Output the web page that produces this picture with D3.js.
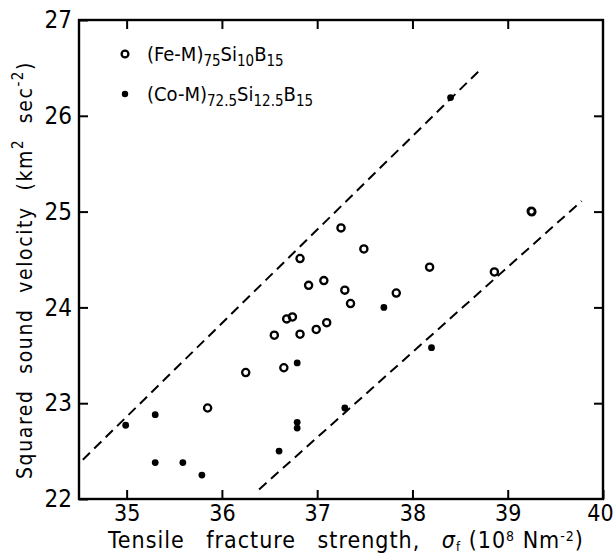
<!DOCTYPE html>
<html>
<head>
<meta charset="utf-8">
<script src="https://cdn.jsdelivr.net/npm/d3@7"></script>
<style>
  body { margin: 0; background: #fff; }
  svg { display: block; }
  text { font-family: "DejaVu Sans Condensed", "DejaVu Sans", sans-serif; fill: #000; }
</style>
</head>
<body>
<div id="container"></div>
<script>
// ---------------- data ----------------
var xTicks = [35, 36, 37, 38, 39, 40];
var yTicks = [22, 23, 24, 25, 26, 27];

// (Fe-M)75Si10B15, open circles
var feX = [35.85, 36.25, 36.55, 36.65, 36.68, 36.74, 36.82, 36.82, 36.91, 36.99,
           37.07, 37.10, 37.25, 37.29, 37.35, 37.49, 37.83, 38.18, 38.86, 39.247, 39.253];
var feY = [22.95, 23.32, 23.71, 23.37, 23.88, 23.90, 23.72, 24.51, 24.23, 23.77,
           24.28, 23.84, 24.83, 24.18, 24.04, 24.61, 24.15, 24.42, 24.37, 25.004, 24.998];

// (Co-M)72.5Si12.5B15, filled dots
var coX = [34.99, 35.30, 35.30, 35.59, 35.79, 36.60, 36.79, 36.79, 36.79, 37.29, 37.70, 38.20, 38.40];
var coY = [22.77, 22.88, 22.38, 22.38, 22.25, 22.50, 22.80, 22.74, 23.42, 22.95, 24.00, 23.58, 26.19];

// dashed bounding lines [x0, y0, x1, y1]
var upperLine = [34.54, 22.41, 38.71, 26.48];
var lowerLine = [36.39, 22.10, 39.775, 25.11];

// ---------------- set up ----------------
var width = 614, height = 555;
var svg = d3.select("#container").append("svg")
    .attr("width", width)
    .attr("height", height);

var x = d3.scaleLinear().domain([34.5, 40]).range([79, 603]);
var y = d3.scaleLinear().domain([22, 27]).range([499, 20]);

var tickLen = 9;

// ---------------- frame + ticks ----------------
svg.append("rect")
    .attr("x", x(34.5)).attr("y", y(27))
    .attr("width", x(40) - x(34.5)).attr("height", y(22) - y(27))
    .style("fill", "none").style("stroke", "#000").style("stroke-width", 2.4);

var bottomAxis = d3.axisBottom(x).tickValues(xTicks).tickSize(-tickLen).tickPadding(6)
    .tickFormat(d3.format("d"));
var gx = svg.append("g").attr("transform", "translate(0," + y(22) + ")").call(bottomAxis);
gx.select(".domain").remove();
gx.selectAll("line").style("stroke-width", 2);
gx.selectAll("text").style("font-size", "23px").attr("dy", "0.71em")
    .attr("dx", function (d) { return d === 40 ? -3 : 0; });

var topAxis = d3.axisTop(x).tickValues(xTicks.slice(0, 5)).tickSize(-tickLen).tickFormat("");
var gt = svg.append("g").attr("transform", "translate(0," + y(27) + ")").call(topAxis);
gt.select(".domain").remove();
gt.selectAll("line").style("stroke-width", 2);

var leftAxis = d3.axisLeft(y).tickValues(yTicks).tickSize(-tickLen).tickPadding(7)
    .tickFormat(d3.format("d"));
var gy = svg.append("g").attr("transform", "translate(" + x(34.5) + ",0)").call(leftAxis);
gy.select(".domain").remove();
gy.selectAll("line").style("stroke-width", 2);
gy.selectAll("text").style("font-size", "24px");

var rightAxis = d3.axisRight(y).tickValues(yTicks.slice(1, 5)).tickSize(-tickLen).tickFormat("");
var gr = svg.append("g").attr("transform", "translate(" + x(40) + ",0)").call(rightAxis);
gr.select(".domain").remove();
gr.selectAll("line").style("stroke-width", 2);

// ---------------- dashed lines ----------------
[upperLine, lowerLine].forEach(function (l) {
    svg.append("line")
        .attr("x1", x(l[0])).attr("y1", y(l[1]))
        .attr("x2", x(l[2])).attr("y2", y(l[3]))
        .style("stroke", "#000")
        .style("stroke-width", 2)
        .style("stroke-dasharray", "10,6");
});

// ---------------- points ----------------
svg.append("g").selectAll("circle")
    .data(feX)
    .enter().append("circle")
    .attr("cx", function (d) { return x(d); })
    .attr("cy", function (d, i) { return y(feY[i]); })
    .attr("r", 3.6)
    .style("fill", "none")
    .style("stroke", "#000")
    .style("stroke-width", 2.3);

svg.append("g").selectAll("circle")
    .data(coX)
    .enter().append("circle")
    .attr("cx", function (d) { return x(d); })
    .attr("cy", function (d, i) { return y(coY[i]); })
    .attr("r", 3.4)
    .style("fill", "#000");

// ---------------- legend ----------------
svg.append("circle").attr("cx", 125).attr("cy", 54).attr("r", 3.4)
    .style("fill", "none").style("stroke", "#000").style("stroke-width", 2.3);
svg.append("circle").attr("cx", 125).attr("cy", 94).attr("r", 3.2).style("fill", "#000");

function formula(ypos, parts) {
    var t = svg.append("text").attr("x", 147).attr("y", ypos).style("font-size", "20px");
    parts.forEach(function (p) {
        var s = t.append("tspan").text(p[0]);
        if (p[1]) s.style("font-size", "15px").attr("dy", "5");
        else if (p[2]) s.attr("dy", "-5");
    });
}
formula(61, [["(Fe-M)"], ["75", 1], ["Si", 0, 1], ["10", 1], ["B", 0, 1], ["15", 1]]);
formula(101, [["(Co-M)"], ["72.5", 1], ["Si", 0, 1], ["12.5", 1], ["B", 0, 1], ["15", 1]]);

// ---------------- axis titles ----------------
var xt = svg.append("text")
    .attr("x", 346).attr("y", 548)
    .style("text-anchor", "middle")
    .style("font-size", "23px")
    .style("letter-spacing", "1px")
    .style("word-spacing", "14px");
xt.append("tspan").text("Tensile fracture strength, ");
xt.append("tspan").text("σ").style("font-style", "italic");
xt.append("tspan").text("f").style("font-size", "13px").attr("dy", 3);
xt.append("tspan").text(" (10").attr("dy", -3).style("word-spacing", "0px");
xt.append("tspan").text("8").style("font-size", "14px").attr("dy", -7);
xt.append("tspan").text(" Nm").attr("dy", 7).style("word-spacing", "0px");
xt.append("tspan").text("-2").style("font-size", "14px").attr("dy", -7);
xt.append("tspan").text(")").attr("dy", 7);

var yt = svg.append("text")
    .attr("transform", "translate(32,270) rotate(-90)")
    .style("text-anchor", "middle")
    .style("font-size", "21px")
    .style("letter-spacing", "1.6px")
    .style("word-spacing", "8px");
yt.append("tspan").text("Squared sound velocity (km");
yt.append("tspan").text("2").style("font-size", "15px").attr("dy", -9);
yt.append("tspan").text(" sec").attr("dy", 9);
yt.append("tspan").text("-2").style("font-size", "15px").attr("dy", -9);
yt.append("tspan").text(")").attr("dy", 9);
</script>
</body>
</html>
